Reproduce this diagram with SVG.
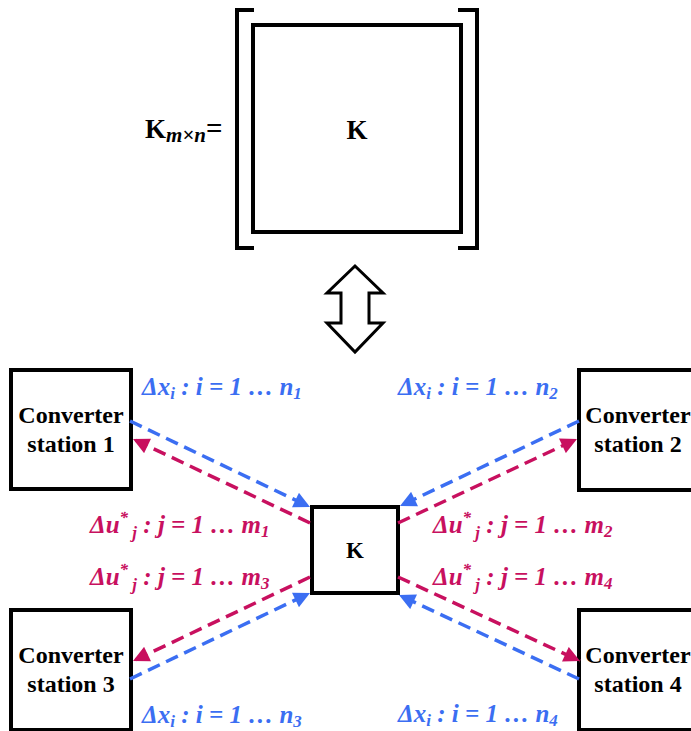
<svg xmlns="http://www.w3.org/2000/svg" width="691" height="731" viewBox="0 0 691 731">
<style>
text{font-family:"Liberation Serif","Times New Roman","DejaVu Serif",serif;font-weight:bold}
.lbl{font-size:24px;fill:#000;text-anchor:middle}
.bl{font-style:italic;font-size:25px;fill:#3b6ef2}
.mg{font-style:italic;font-size:25px;fill:#c8105f}
.sub{font-size:17px}
.box{fill:#fff;stroke:#000;stroke-width:4}
.cb{fill:none;stroke:#3b6ef2;stroke-width:3.5;stroke-dasharray:13 7}
.cm{fill:none;stroke:#c8105f;stroke-width:3.5;stroke-dasharray:13 7}
</style>
<defs>
<marker id="ab" viewBox="0 0 10 10" refX="10" refY="5" markerWidth="5.2" markerHeight="4.6" markerUnits="strokeWidth" orient="auto"><path d="M0,0L10,5L0,10z" fill="#3b6ef2"/></marker>
<marker id="am" viewBox="0 0 10 10" refX="10" refY="5" markerWidth="5.2" markerHeight="4.6" markerUnits="strokeWidth" orient="auto"><path d="M0,0L10,5L0,10z" fill="#c8105f"/></marker>
</defs>
<rect width="691" height="731" fill="#fff"/>
<g id="matrix">
<text x="145" y="138" style="font-size:27px">K<tspan style="font-style:italic;font-size:21px" dy="4">m×n</tspan><tspan dy="-4" style="font-size:29px">=</tspan></text>
<path d="M254,10H237V248H254M458,10H477V248H458" fill="none" stroke="#000" stroke-width="4"/>
<rect class="box" x="253" y="25" width="208" height="207"/>
<text x="357" y="139" class="lbl" style="font-size:27px">K</text>
</g>
<g id="double-arrow">
<path d="M355,266L383,293H369V323H383L355,352L327,323H341V293H327Z" fill="#fff" stroke="#000" stroke-width="3" stroke-linejoin="miter"/>
</g>
<g id="station1">
<rect class="box" x="11" y="370" width="120" height="119"/>
<text class="lbl" x="71" y="423">Converter</text>
<text class="lbl" x="71" y="452">station 1</text>
</g>
<g id="station2">
<rect class="box" x="579" y="370" width="120" height="120"/>
<text class="lbl" x="638" y="423">Converter</text>
<text class="lbl" x="638" y="452">station 2</text>
</g>
<g id="station3">
<rect class="box" x="11" y="610" width="120" height="120"/>
<text class="lbl" x="71" y="663">Converter</text>
<text class="lbl" x="71" y="692">station 3</text>
</g>
<g id="station4">
<rect class="box" x="579" y="610" width="120" height="120"/>
<text class="lbl" x="638" y="663">Converter</text>
<text class="lbl" x="638" y="692">station 4</text>
</g>
<g id="K">
<rect class="box" x="312" y="507" width="86" height="86"/>
<text class="lbl" x="355" y="558" style="font-size:23px">K</text>
</g>
<g id="connectors">
<path class="cb" d="M130,421L310,507" marker-end="url(#ab)"/>
<path class="cm" d="M310,523L133,439" marker-end="url(#am)"/>
<path class="cb" d="M579,421L400,506" marker-end="url(#ab)"/>
<path class="cm" d="M398,523L577,439" marker-end="url(#am)"/>
<path class="cm" d="M310,577L133,661" marker-end="url(#am)"/>
<path class="cb" d="M130,679L310,593" marker-end="url(#ab)"/>
<path class="cm" d="M398,577L580,661" marker-end="url(#am)"/>
<path class="cb" d="M579,679L399,595" marker-end="url(#ab)"/>
</g>
<g id="labels">
<text class="bl" x="142" y="395">Δx<tspan class="sub" dy="4">i</tspan><tspan dy="-4"> : i = 1 … n</tspan><tspan class="sub" dy="4">1</tspan></text>
<text class="bl" x="398" y="395">Δx<tspan class="sub" dy="4">i</tspan><tspan dy="-4"> : i = 1 … n</tspan><tspan class="sub" dy="4">2</tspan></text>
<text class="bl" x="142" y="723">Δx<tspan class="sub" dy="4">i</tspan><tspan dy="-4"> : i = 1 … n</tspan><tspan class="sub" dy="4">3</tspan></text>
<text class="bl" x="398" y="722">Δx<tspan class="sub" dy="4">i</tspan><tspan dy="-4"> : i = 1 … n</tspan><tspan class="sub" dy="4">4</tspan></text>
<text class="mg" x="90" y="533">Δu<tspan class="sub" dy="-10">*</tspan><tspan class="sub" dy="15"> j</tspan><tspan dy="-5"> : j = 1 … m</tspan><tspan class="sub" dy="4">1</tspan></text>
<text class="mg" x="433" y="533">Δu<tspan class="sub" dy="-10">*</tspan><tspan class="sub" dy="15"> j</tspan><tspan dy="-5"> : j = 1 … m</tspan><tspan class="sub" dy="4">2</tspan></text>
<text class="mg" x="90" y="585">Δu<tspan class="sub" dy="-10">*</tspan><tspan class="sub" dy="15"> j</tspan><tspan dy="-5"> : j = 1 … m</tspan><tspan class="sub" dy="4">3</tspan></text>
<text class="mg" x="433" y="585">Δu<tspan class="sub" dy="-10">*</tspan><tspan class="sub" dy="15"> j</tspan><tspan dy="-5"> : j = 1 … m</tspan><tspan class="sub" dy="4">4</tspan></text>
</g>
</svg>
